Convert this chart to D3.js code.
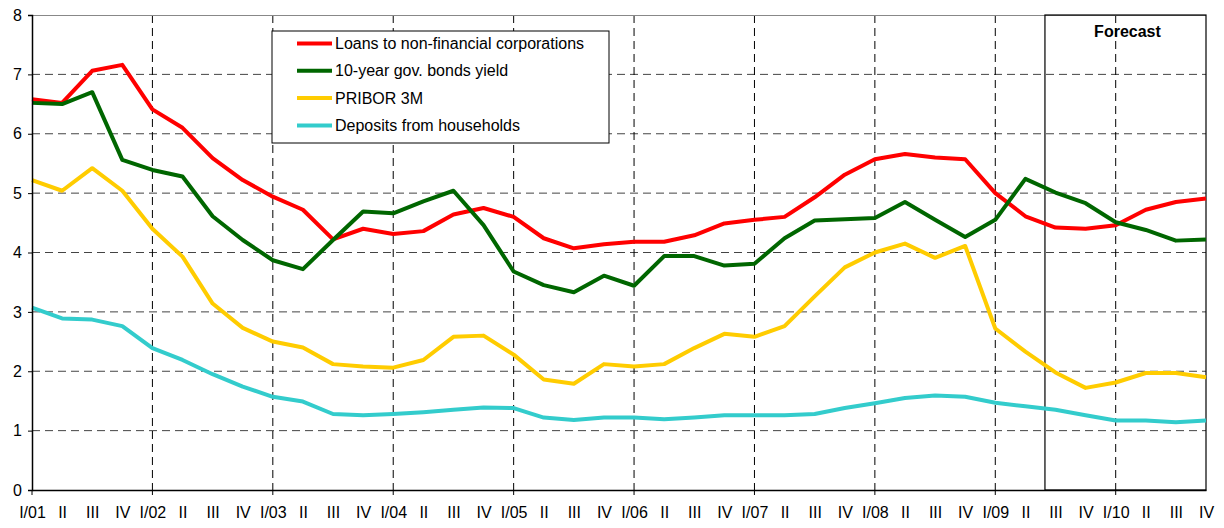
<!DOCTYPE html>
<html>
<head>
<meta charset="utf-8">
<script src="https://cdn.jsdelivr.net/npm/d3@7"></script>
<style>
  body { margin: 0; background: #fff; }
  text { font-family: "Liberation Sans", Arial, sans-serif; }
</style>
</head>
<body>
<svg id="chart"></svg>
<script>
// quarters I/01 .. IV/10
var years = ["01", "02", "03", "04", "05", "06", "07", "08", "09", "10"];
var quarters = [];
years.forEach(function (y) {
  quarters.push("I/" + y, "II", "III", "IV");
});

var loans = [6.58, 6.52, 7.06, 7.16, 6.41, 6.10, 5.59, 5.22, 4.94, 4.72,
             4.22, 4.40, 4.31, 4.36, 4.64, 4.75, 4.60, 4.24, 4.07, 4.14,
             4.18, 4.18, 4.29, 4.49, 4.55, 4.60, 4.93, 5.31, 5.57, 5.66,
             5.60, 5.57, 5.00, 4.61, 4.42, 4.40, 4.46, 4.72, 4.85, 4.91];
var bonds = [6.52, 6.50, 6.70, 5.56, 5.39, 5.28, 4.61, 4.21, 3.87, 3.72,
             4.21, 4.69, 4.66, 4.86, 5.04, 4.46, 3.68, 3.45, 3.33, 3.61,
             3.44, 3.94, 3.94, 3.78, 3.81, 4.24, 4.54, 4.56, 4.58, 4.85,
             4.55, 4.26, 4.55, 5.24, 5.01, 4.83, 4.51, 4.38, 4.20, 4.22];
var pribor = [5.22, 5.04, 5.42, 5.04, 4.40, 3.93, 3.14, 2.73, 2.50, 2.40,
              2.12, 2.08, 2.06, 2.19, 2.58, 2.60, 2.28, 1.86, 1.79, 2.12,
              2.08, 2.12, 2.39, 2.63, 2.58, 2.76, 3.26, 3.75, 4.00, 4.15,
              3.91, 4.11, 2.72, 2.33, 1.98, 1.72, 1.81, 1.97, 1.97, 1.90];
var deposits = [3.07, 2.89, 2.87, 2.76, 2.39, 2.19, 1.95, 1.74, 1.57, 1.49,
                1.28, 1.26, 1.28, 1.31, 1.35, 1.39, 1.38, 1.22, 1.18, 1.22,
                1.22, 1.19, 1.22, 1.26, 1.26, 1.26, 1.28, 1.38, 1.46, 1.55,
                1.59, 1.57, 1.47, 1.41, 1.35, 1.26, 1.17, 1.17, 1.14, 1.17];

var seriesNames = ["Loans to non-financial corporations", "10-year gov. bonds yield",
                   "PRIBOR 3M", "Deposits from households"];
var seriesColors = ["#ff0000", "#006600", "#ffcc00", "#33cccc"];
var yTicks = [0, 1, 2, 3, 4, 5, 6, 7, 8];

var width = 1224, height = 528;
var margin = {top: 15, right: 18, bottom: 38, left: 32};
var w = width - margin.left - margin.right;
var h = height - margin.top - margin.bottom;

var svg = d3.select("#chart").attr("width", width).attr("height", height);
var g = svg.append("g").attr("transform", "translate(" + margin.left + "," + margin.top + ")");

var idx = d3.range(quarters.length);
var x = d3.scalePoint().domain(idx).range([0, w]);
var y = d3.scaleLinear().domain([0, 8]).range([h, 0]);

// horizontal grid
g.selectAll(".hgrid")
  .data(yTicks.filter(function (d) { return d > 0 && d < 8; }))
  .enter().append("line")
  .attr("x1", 0).attr("x2", w)
  .attr("y1", function (d) { return y(d); })
  .attr("y2", function (d) { return y(d); })
  .attr("stroke", "#444").attr("stroke-width", 1)
  .attr("stroke-dasharray", "8,5");

// vertical grid at each year start
var yearIdx = idx.filter(function (i) { return i % 4 === 0 && i > 0; });
g.selectAll(".vgrid")
  .data(yearIdx)
  .enter().append("line")
  .attr("x1", function (d) { return x(d); })
  .attr("x2", function (d) { return x(d); })
  .attr("y1", 0).attr("y2", h)
  .attr("stroke", "#000").attr("stroke-width", 1)
  .attr("stroke-dasharray", "8,5");

// top border
g.append("line").attr("x1", 0).attr("x2", w).attr("y1", 0.5).attr("y2", 0.5)
  .attr("stroke", "#888").attr("stroke-width", 1);

// forecast box
var fx = x(33) + 0.65 * x.step();
g.append("rect")
  .attr("x", fx).attr("y", 0)
  .attr("width", w - fx).attr("height", h)
  .attr("fill", "none").attr("stroke", "#000").attr("stroke-width", 1.2);
g.append("text")
  .attr("x", (fx + w) / 2 + 2).attr("y", 22)
  .attr("text-anchor", "middle")
  .attr("font-size", 16).attr("font-weight", "bold")
  .text("Forecast");

// lines
var line = d3.line()
  .x(function (d, i) { return x(i); })
  .y(function (d) { return y(d); });

[loans, bonds, pribor, deposits].forEach(function (s, k) {
  g.append("path")
    .datum(s)
    .attr("d", line)
    .attr("fill", "none")
    .attr("stroke", seriesColors[k])
    .attr("stroke-width", 4)
    .attr("stroke-linejoin", "round");
});

// axes
var xAxis = d3.axisBottom(x)
  .tickValues(idx)
  .tickFormat(function (i) { return quarters[i]; })
  .tickSize(0).tickPadding(17);
var xg = g.append("g").attr("transform", "translate(0," + h + ")").call(xAxis);
xg.select(".domain").attr("stroke", "#000").attr("stroke-width", 1.5);
xg.selectAll("text").attr("font-size", 16).attr("fill", "#000")
  .attr("font-family", "'Liberation Sans', Arial, sans-serif");

g.selectAll(".ytk")
  .data([0].concat(yearIdx))
  .enter().append("line")
  .attr("x1", function (d) { return x(d); })
  .attr("x2", function (d) { return x(d); })
  .attr("y1", h).attr("y2", h + 5)
  .attr("stroke", "#000");

var yAxis = d3.axisLeft(y).tickValues(yTicks).tickSize(4).tickPadding(6);
var yg = g.append("g").call(yAxis);
yg.select(".domain").attr("stroke", "#000").attr("stroke-width", 1.5);
yg.selectAll("text").attr("font-size", 16).attr("fill", "#000")
  .attr("font-family", "'Liberation Sans', Arial, sans-serif");
yg.selectAll(".tick line").attr("stroke", "#000");

// legend
var lg = svg.append("g").attr("transform", "translate(272,31)");
lg.append("rect").attr("width", 337).attr("height", 112)
  .attr("fill", "#fff").attr("stroke", "#000").attr("stroke-width", 1);
seriesNames.forEach(function (name, k) {
  var ly = 12.5 + k * 27.3;
  lg.append("line").attr("x1", 25).attr("x2", 60)
    .attr("y1", ly).attr("y2", ly)
    .attr("stroke", seriesColors[k]).attr("stroke-width", 4);
  lg.append("text").attr("x", 63).attr("y", ly + 5.5)
    .attr("font-size", 16).text(name);
});
</script>
</body>
</html>
